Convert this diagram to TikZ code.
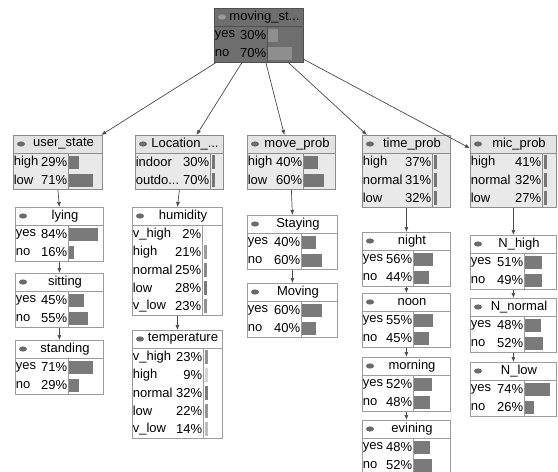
\documentclass[tikz,border=0pt]{standalone}
\usepackage{fontspec}
\setmainfont{Liberation Sans}
\usetikzlibrary{arrows.meta}
\definecolor{rootbody}{HTML}{6E6E6E}
\definecolor{roothead}{HTML}{6E6E6E}
\definecolor{rootline}{HTML}{505050}
\definecolor{rootbar}{HTML}{8E8E8E}
\definecolor{rooticon}{HTML}{9A9A9A}
\definecolor{statebody}{HTML}{E9E9E9}
\definecolor{statehead}{HTML}{E3E3E3}
\definecolor{stateline}{HTML}{8C8C8C}
\definecolor{statebar}{HTML}{767676}
\definecolor{stateicon}{HTML}{6A6A6A}
\definecolor{leafbody}{HTML}{FFFFFF}
\definecolor{leafhead}{HTML}{FFFFFF}
\definecolor{leafline}{HTML}{9C9C9C}
\definecolor{leafbar}{HTML}{7A7A7A}
\definecolor{leaficon}{HTML}{6A6A6A}
\definecolor{arcink}{HTML}{4A4A4A}

\newcommand{\trunc}{...}
% bars: wide ones grow with the value, thin ones only darken
\newcommand{\widebar}[4]{\fill[#1bar] (#2+1,#3-6.5) rectangle ++(0.34*#4,13);}
\newcommand{\thinbar}[4]{\pgfmathsetmacro\op{min(1,#4/28)}%
  \fill[#1bar,fill opacity=\op] (#2+2,#3-7) rectangle ++(3,14);}

% [bars] name, look, left, top, width, divider, title, rows
\newcommand{\cptnode}[9][wide]{%
  \foreach[count=\k] \lab/\pct in {#9} {\xdef\nrows{\k}}
  \pgfmathsetmacro\boxh{18+18*\nrows}
  \node[cpt,fill=#3body,draw=#3line,minimum width=#6pt,minimum height=\boxh pt,
        anchor=north west] (#2) at (#4,#5) {};
  \draw[draw=#3line,fill=#3head] (#4,#5) rectangle (#4+#6,#5+18);
  \draw[#3line] (#4+#7,#5+18) -- (#4+#7,#5+\boxh);
  \fill[#3icon] (#4+8,#5+9) ellipse [x radius=4pt,y radius=2.6pt];
  \node[cell] (#2-t) at (#4+6+#6/2,#5+9) {#8};
  \foreach[count=\k] \lab/\pct in {#9} {
    \pgfmathsetmacro\ry{#5+18*\k+9}
    \node[cell,anchor=west] (#2-l\k) at (#4,\ry) {\lab};
    \node[cell,anchor=east] (#2-p\k) at (#4+#7,\ry) {\pct\%};
    \csname #1bar\endcsname{#3}{#4+#7}{\ry}{\pct}
  }
}

\begin{document}
\begin{tikzpicture}[x=1pt,y=-1pt,font=\fontsize{13}{14}\selectfont,
    cpt/.style={rectangle,inner sep=0pt,line width=0.8pt},
    cell/.style={inner sep=0.6pt},
    arc/.style={arcink,line width=0.7pt,-{Latex[length=5pt,width=4pt]}}]
  \useasboundingbox[fill=white] (0,0) rectangle (558,472);

  \cptnode{movstate}{root}{214}{8}{89}{53}{moving\_st\trunc}{yes/30,no/70}

  % second row
  \cptnode{userstate}{state}{13}{135}{89}{55}{user\_state}{high/29,low/71}
  \cptnode[thin]{loc}{state}{135}{135}{88}{75}{Location\_\trunc}{indoor/30,outdo\trunc/70}
  \cptnode{moveprob}{state}{247}{135}{88}{56}{move\_prob}{high/40,low/60}
  \cptnode[thin]{timeprob}{state}{362}{135}{88}{70}{time\_prob}{high/37,normal/31,low/32}
  \cptnode[thin]{micprob}{state}{470}{135}{86}{72}{mic\_prob}{high/41,normal/32,low/27}

  % leaves
  \cptnode{lying}{leaf}{15}{207}{88}{53}{lying}{yes/84,no/16}
  \cptnode{sitting}{leaf}{15}{273}{88}{53}{sitting}{yes/45,no/55}
  \cptnode{standing}{leaf}{15}{340}{88}{53}{standing}{yes/71,no/29}
  \cptnode[thin]{hum}{leaf}{132}{207}{90}{70}{humidity}{v\_high/2,high/21,normal/25,low/28,v\_low/23}
  \cptnode[thin]{temp}{leaf}{132}{330}{90}{71}{temperature}{v\_high/23,high/9,normal/32,low/22,v\_low/14}
  \cptnode{staying}{leaf}{247}{215}{90}{54}{Staying}{yes/40,no/60}
  \cptnode{moving}{leaf}{247}{283}{90}{54}{Moving}{yes/60,no/40}
  \cptnode{night}{leaf}{362}{232}{88}{51}{night}{yes/56,no/44}
  \cptnode{noon}{leaf}{362}{293}{88}{51}{noon}{yes/55,no/45}
  \cptnode{morning}{leaf}{362}{357}{88}{51}{morning}{yes/52,no/48}
  \cptnode{evining}{leaf}{362}{420}{88}{51}{evining}{yes/48,no/52}
  \cptnode{nhigh}{leaf}{470}{235}{86}{54}{N\_high}{yes/51,no/49}
  \cptnode{nnormal}{leaf}{470}{298}{86}{54}{N\_normal}{yes/48,no/52}
  \cptnode{nlow}{leaf}{470}{362}{86}{54}{N\_low}{yes/74,no/26}

  \foreach \a/\b in {movstate/userstate,movstate/loc,movstate/moveprob,
      movstate/timeprob,movstate/micprob}
    \draw[arc] (\a) -- (\b);
  \foreach \a/\b in {userstate/lying,lying/sitting,sitting/standing,loc/hum,
      hum/temp,moveprob/staying,staying/moving,timeprob/night,night/noon,
      noon/morning,morning/evining,micprob/nhigh,nhigh/nnormal,nnormal/nlow}
    \draw[arc] (\a.south) -- (\b.north);
\end{tikzpicture}
\end{document}
